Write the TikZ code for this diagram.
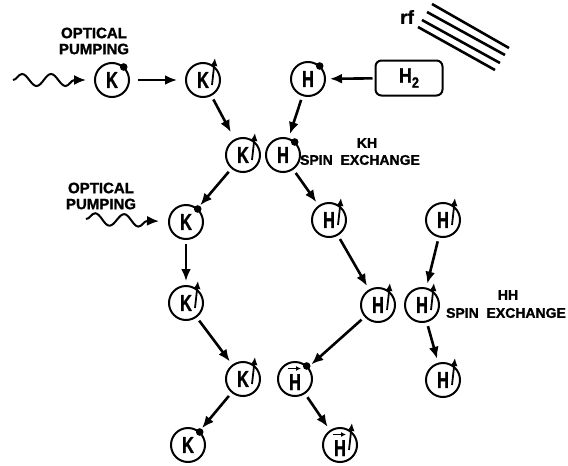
\documentclass[tikz,border=0pt]{standalone}
\usepackage{fontspec}
\setmainfont{Liberation Sans}[BoldFeatures={FakeBold=1.2}]
\usetikzlibrary{arrows.meta,decorations.pathmorphing,calc}
\newcommand\atomtxt[1]{\scalebox{0.72}[1]{\fontsize{23}{23}\selectfont #1}}
\newcommand\dotat[1]{\fill ($(#1.center)+(48:17.5pt)$) circle (3.8pt);}
\newcommand\spinat[1]{\draw[spin] ($(#1.center)+(9,5)$) -- ($(#1.center)+(12,-22)$);}
\newcommand\vecat[1]{\draw[line width=1.5pt,-{Latex[length=5pt,width=5pt]}] ($(#1.center)+(-7,-10.5)$) -- ($(#1.center)+(6,-10.5)$);}
\begin{document}
\begin{tikzpicture}[x=1pt,y=-1pt,font=\bfseries,
  atom/.style={circle,draw,line width=2pt,minimum size=34pt,inner sep=0pt},
  vecatom/.style={atom,text height=22pt,text depth=0pt},
  flow/.style={line width=2.6pt,-{Latex[length=12pt,width=10pt]},shorten >=4pt,shorten <=4pt},
  spin/.style={line width=1.8pt,-{Latex[length=8pt,width=7pt]}},
  lab/.style={font=\bfseries\fontsize{15}{16}\selectfont,align=center,inner sep=0pt},
  lab2/.style={font=\bfseries\fontsize{14}{15}\selectfont,inner sep=0pt},
  wave/.style={line width=2pt,-{Latex[length=12pt,width=10pt]},decorate,
    decoration={snake,segment length=29pt,amplitude=6pt,post length=12pt}},
  rfline/.style={line width=2.6pt}
]
\useasboundingbox (0,0) rectangle (568,466);

% K column
\node[atom] (K1) at (112,80) {\atomtxt{K}};
\node[atom] (K2) at (203,80) {\atomtxt{K}};
\node[atom] (K3) at (243,155) {\atomtxt{K}};
\node[atom] (K4) at (186,222) {\atomtxt{K}};
\node[atom] (K5) at (186,303) {\atomtxt{K}};
\node[atom] (K6) at (243,379) {\atomtxt{K}};
\node[atom] (K7) at (188,445) {\atomtxt{K}};
% H atoms
\node[atom] (Ha) at (308,79) {\atomtxt{H}};
\node[atom] (Hb) at (283,155) {\atomtxt{H}};
\node[atom] (Hc) at (329,220) {\atomtxt{H}};
\node[atom] (Hd) at (443,220) {\atomtxt{H}};
\node[atom] (He) at (378,305) {\atomtxt{H}};
\node[atom] (Hf) at (422,305) {\atomtxt{H}};
\node[atom] (Hh) at (443,380) {\atomtxt{H}};
\node[vecatom] (Hg) at (295,379) {\atomtxt{H}};
\node[vecatom] (Hi) at (340,445) {\atomtxt{H}};
% H2 box
\node[draw,rounded corners=6pt,line width=2pt,minimum width=67pt,minimum height=35pt,inner sep=0pt]
  (H2) at (409,78) {\scalebox{0.85}[1]{\fontsize{21}{21}\selectfont H\raisebox{-5pt}{\fontsize{15}{15}\selectfont 2}}};

% marks
\dotat{K1}\dotat{K4}\dotat{K7}\dotat{Ha}\dotat{Hb}\dotat{Hg}
\spinat{K2}\spinat{K3}\spinat{K5}\spinat{K6}
\spinat{Hc}\spinat{Hd}\spinat{He}\spinat{Hf}\spinat{Hh}\spinat{Hi}
\vecat{Hg}\vecat{Hi}

% connectors
\draw[flow,shorten <=8pt,shorten >=8pt] (K1) -- (K2);
\draw[flow,shorten >=8pt] (K2) -- (K3);
\draw[flow] (K3) -- (K4);
\draw[flow] (K4) -- (K5);
\draw[flow] (K5) -- (K6);
\draw[flow] (K6) -- (K7);
\draw[flow,shorten <=2pt] (H2) -- (Ha);
\draw[flow] (Ha) -- (Hb);
\draw[flow] (Hb) -- (Hc);
\draw[flow] (Hc) -- (He);
\draw[flow] (Hd) -- (Hf);
\draw[flow] (Hf) -- (Hh);
\draw[flow] (He) -- (Hg);
\draw[flow] (Hg) -- (Hi);

% optical pumping
\coordinate (w1) at (13,80);
\coordinate (w2) at (86,219);
\draw[wave,shorten >=8pt] (w1) -- (K1);
\draw[wave,shorten >=9pt] (w2) -- (K4);
\node[lab] (op1) at (94,41) {OPTICAL\\PUMPING};
\node[lab] (op2) at (101,196) {OPTICAL\\PUMPING};

% spin exchange labels
\node[lab2] (kh) at (367,143) {KH};
\node[lab2] (kse) at (360,160) {SPIN\ \ EXCHANGE};
\node[lab2] (hh) at (508,295) {HH};
\node[lab2] (hse) at (506,313) {SPIN\ \ EXCHANGE};

% rf
\node[font=\bfseries\fontsize{19}{19}\selectfont,inner sep=0pt] (rf) at (407,17) {rf};
\draw[rfline] (432,4) -- (509,48);
\draw[rfline] (427,12) -- (505,55);
\draw[rfline] (422,20) -- (500,63);
\draw[rfline] (418,27) -- (495,70);
\end{tikzpicture}
\end{document}
